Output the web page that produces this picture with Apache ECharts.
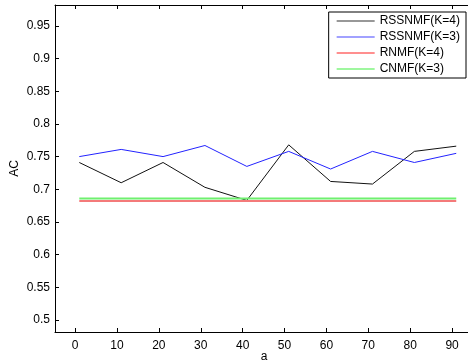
<!DOCTYPE html>
<html>
<head>
<meta charset="utf-8">
<script src="https://cdn.jsdelivr.net/npm/echarts@6/dist/echarts.min.js"></script>
<style>
  html, body { margin: 0; padding: 0; background: #fff; }
  #container { width: 468px; height: 364px; }
</style>
</head>
<body>
<div id="container"></div>
<script>
// x positions of the samples
const xValues = [1, 11, 21, 31, 41, 51, 61, 71, 81, 91]
const rssnmfK4 = [0.741, 0.710, 0.741, 0.703, 0.683, 0.768, 0.712, 0.708, 0.758, 0.766]
const rssnmfK3 = [0.750, 0.761, 0.750, 0.767, 0.735, 0.758, 0.731, 0.758, 0.741, 0.755]
const rnmfK4 = [0.682, 0.682, 0.682, 0.682, 0.682, 0.682, 0.682, 0.682, 0.682, 0.682]
const cnmfK3 = [0.686, 0.686, 0.686, 0.686, 0.686, 0.686, 0.686, 0.686, 0.686, 0.686]
const xTicks = [0, 10, 20, 30, 40, 50, 60, 70, 80, 90]
const yTicks = [0.5, 0.55, 0.6, 0.65, 0.7, 0.75, 0.8, 0.85, 0.9, 0.95]

const font = 'Liberation Sans, Arial, sans-serif'
// 图例里的细线图标（用两个 moveTo 撑开包围盒）
const lineIcon = 'path://M0,0 M0,12 M0,5.5 L38,5.5 L38,6.5 L0,6.5 Z'

function pairs(ys) {
  return xValues.map((x, i) => [x, ys[i]])
}

let chartDom = document.getElementById('container')
let myChart = echarts.init(chartDom, null, { renderer: 'canvas' })

// 坐标轴公共样式（MATLAB 风格，刻度朝内）
function xAxisCfg(pos, showLabel) {
  return {
    type: 'value',
    position: pos,
    min: -4.8,
    max: 95,
    axisLine: { show: true, onZero: false, lineStyle: { color: '#000', width: 1 } },
    axisTick: { show: true, inside: true, length: 4, customValues: xTicks, lineStyle: { color: '#000' } },
    axisLabel: { show: showLabel, customValues: xTicks, color: '#000', fontSize: 12, fontFamily: font, margin: 8 },
    splitLine: { show: false },
    name: showLabel ? 'a' : '',
    nameLocation: 'middle',
    nameGap: 19,
    nameMoveOverlap: false,
    nameTextStyle: { color: '#000', fontSize: 12, fontFamily: font }
  }
}

function yAxisCfg(pos, showLabel) {
  return {
    type: 'value',
    position: pos,
    min: 0.4816,
    max: 0.982,
    axisLine: { show: true, onZero: false, lineStyle: { color: '#000', width: 1 } },
    axisTick: { show: true, inside: true, length: 4, customValues: yTicks, lineStyle: { color: '#000' } },
    axisLabel: {
      show: showLabel,
      customValues: yTicks,
      color: '#000',
      fontSize: 12,
      fontFamily: font,
      margin: 5,
      formatter: v => String(Math.round(v * 100) / 100)
    },
    splitLine: { show: false },
    name: showLabel ? 'AC' : '',
    nameLocation: 'middle',
    nameGap: 34,
    nameMoveOverlap: false,
    nameTextStyle: { color: '#000', fontSize: 12, fontFamily: font }
  }
}

function lineSeries(name, ys, color, width) {
  return {
    name: name,
    type: 'line',
    data: pairs(ys),
    symbol: 'none',
    showSymbol: false,
    animation: false,
    lineStyle: { color: color, width: width },
    itemStyle: { color: color }
  }
}

let option = {
  animation: false,
  grid: { left: 55, top: 5, bottom: 32, right: -5, outerBoundsMode: 'none' },
  xAxis: [xAxisCfg('bottom', true), xAxisCfg('top', false)],
  yAxis: [yAxisCfg('left', true), yAxisCfg('right', false)],
  legend: {
    orient: 'vertical',
    right: 2,
    top: 12,
    backgroundColor: '#fff',
    borderColor: '#000',
    borderWidth: 1,
    borderRadius: 0,
    padding: [3, 6, 3, 8],
    itemGap: 4,
    itemWidth: 38,
    itemHeight: 12,
    icon: lineIcon,
    textStyle: { color: '#000', fontSize: 12, fontFamily: font },
    data: [
      { name: 'RSSNMF(K=4)', itemStyle: { color: '#333' } },
      { name: 'RSSNMF(K=3)', itemStyle: { color: '#4444ff' } },
      { name: 'RNMF(K=4)', itemStyle: { color: '#ff2020' } },
      { name: 'CNMF(K=3)', itemStyle: { color: '#40f040' } }
    ]
  },
  series: [
    lineSeries('RSSNMF(K=4)', rssnmfK4, '#111', 1),
    lineSeries('RSSNMF(K=3)', rssnmfK3, '#2222ff', 1),
    lineSeries('RNMF(K=4)', rnmfK4, '#f47a7a', 2),
    lineSeries('CNMF(K=3)', cnmfK3, '#6ff06f', 2)
  ]
}

option && myChart.setOption(option)
</script>
</body>
</html>
